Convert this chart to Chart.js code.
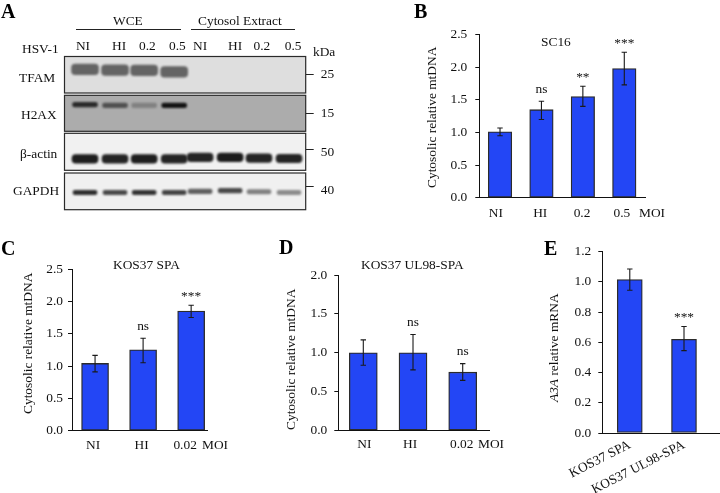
<!DOCTYPE html>
<html>
<head>
<meta charset="utf-8">
<title>HSV-1 cytosolic mtDNA</title>
<script src="https://cdn.jsdelivr.net/npm/chart.js@4"></script>
<style>
  html, body { margin: 0; padding: 0; background: #fff; }
  #page { position: relative; width: 720px; height: 493px; overflow: hidden;
          font-family: "Liberation Serif", serif; font-size: 13.4px; color: #111; }
  canvas { position: absolute; left: 0; top: 0; }
  .note { position: absolute; white-space: nowrap; line-height: 1; }
  .letter { font-size: 20px; font-weight: bold; color: #000; }
  .rule { position: absolute; height: 1px; background: #222; }
</style>
</head>
<body>
<div id="page"></div>
<script>
// bar panels
const bLabels = ['NI', 'HI', '0.2', '0.5'];
const bValues = [1.01, 1.35, 1.55, 1.98];
const bErrLow = [0.95, 1.20, 1.40, 1.73];
const bErrHigh = [1.07, 1.48, 1.71, 2.23];
const bSig = ['', 'ns', '**', '***'];
const bLabelAt = [0.90, 1.97, 2.98, 3.94];

const cLabels = ['NI', 'HI', '0.02'];
const cValues = [1.04, 1.25, 1.85];
const cErrLow = [0.91, 1.05, 1.75];
const cErrHigh = [1.165, 1.43, 1.94];
const cSig = ['', 'ns', '***'];
const cLabelAt = [0.96, 1.97, 2.875];

const dLabels = ['NI', 'HI', '0.02'];
const dValues = [1.0, 1.0, 0.75];
const dErrLow = [0.84, 0.78, 0.645];
const dErrHigh = [1.165, 1.235, 0.86];
const dSig = ['', 'ns', 'ns'];
const dLabelAt = [1.02, 1.94, 2.98];

const eLabels = ['KOS37 SPA', 'KOS37 UL98-SPA'];
const eValues = [1.015, 0.62];
const eErrLow = [0.945, 0.545];
const eErrHigh = [1.085, 0.705];
const eSig = ['', '***'];
const eLabelAt = [1, 2];

// blot: lane positions, then band level (0-1 up the strip) and darkness per lane
const laneLabels = ['NI', 'HI', '0.2', '0.5', 'NI', 'HI', '0.2', '0.5'];
const laneLabelAt = [0.93, 2.17, 3.14, 4.17, 4.95, 6.15, 7.07, 8.14];
const lanes = [1, 2.03, 3.03, 4.06, 4.95, 5.98, 6.97, 8];
const tfamLevel = [0.65, 0.63, 0.62, 0.58, 0.6, 0.6, 0.6, 0.6];
const tfamDark = [0.6, 0.6, 0.6, 0.6, 0, 0, 0, 0];
const h2axLevel = [0.74, 0.72, 0.72, 0.72, 0.7, 0.7, 0.7, 0.7];
const h2axDark = [0.85, 0.6, 0.28, 1, 0, 0, 0, 0];
const actinLevel = [0.31, 0.31, 0.31, 0.31, 0.35, 0.35, 0.33, 0.32];
const actinDark = [0.95, 0.92, 0.95, 0.92, 0.92, 0.96, 0.92, 0.92];
const gapdhLevel = [0.47, 0.47, 0.47, 0.47, 0.5, 0.52, 0.49, 0.47];
const gapdhDark = [0.88, 0.75, 0.85, 0.78, 0.65, 0.75, 0.5, 0.45];

Chart.defaults.font.family = '"Liberation Serif", serif';
Chart.defaults.font.size = 13.4;
Chart.defaults.color = '#111';
Chart.defaults.animation = false;
Chart.defaults.plugins.legend.display = false;
Chart.defaults.plugins.tooltip.enabled = false;

const W = 720, H = 493;
const page = document.getElementById('page');

function newCanvas() {
  const c = document.createElement('canvas');
  c.width = W; c.height = H;
  c.style.width = W + 'px'; c.style.height = H + 'px';
  page.appendChild(c);
  return c.getContext('2d');
}

const errorBars = {
  id: 'errorBars',
  afterDatasetsDraw(chart, args, o) {
    const { ctx, scales: { x, y } } = chart;
    ctx.save();
    ctx.strokeStyle = '#1a1a1a';
    ctx.lineWidth = 1.1;
    o.high.forEach((hi, i) => {
      const px = x.getPixelForValue(i + 1);
      const top = y.getPixelForValue(hi), bot = y.getPixelForValue(o.low[i]);
      ctx.beginPath();
      ctx.moveTo(px, top); ctx.lineTo(px, bot);
      ctx.moveTo(px - 2.7, top); ctx.lineTo(px + 2.7, top);
      ctx.moveTo(px - 2.7, bot); ctx.lineTo(px + 2.7, bot);
      ctx.stroke();
      if (o.sig[i]) {
        ctx.fillStyle = '#111';
        ctx.font = '13.4px "Liberation Serif", serif';
        ctx.textAlign = 'center';
        ctx.textBaseline = 'middle';
        ctx.fillText(o.sig[i], px, top - (o.sig[i] === 'ns' ? 12 : 9));
      }
    });
    ctx.restore();
  }
};

function barPanel(p) {
  new Chart(newCanvas(), {
    type: 'bar',
    data: {
      datasets: [{
        data: p.values.map((v, i) => ({ x: i + 1, y: v })),
        backgroundColor: '#2346f5',
        borderColor: '#2b2b2b',
        borderWidth: 1.3,
        borderSkipped: false,
        barThickness: p.barWidth
      }]
    },
    options: {
      responsive: false,
      layout: { autoPadding: false, padding: { left: 0, top: p.top, right: W - p.right, bottom: 0 } },
      scales: {
        x: {
          type: 'linear', offset: false, min: p.xMin, max: p.xMax,
          grid: { display: false, drawTicks: false },
          border: { display: true, color: '#111', width: 1 },
          ticks: {
            autoSkip: false, padding: p.xPad, minRotation: p.rotate || 0, maxRotation: p.rotate || 0,
            callback: (v, i) => p.labels[i]
          },
          afterBuildTicks: s => { s.ticks = p.labelAt.map(v => ({ value: v })); },
          afterFit: s => { s.height = H - p.bottom; }
        },
        y: {
          min: 0, max: p.yMax,
          grid: { drawOnChartArea: false, drawTicks: true, tickLength: 4, color: '#111' },
          border: { display: true, color: '#111', width: 1 },
          ticks: { stepSize: p.yStep, padding: p.yPad, callback: v => v.toFixed(1) },
          afterFit: s => { s.width = p.left; }
        }
      },
      plugins: { errorBars: { low: p.errLow, high: p.errHigh, sig: p.sig } }
    },
    plugins: [errorBars]
  });
}

barPanel({ labels: bLabels, values: bValues, errLow: bErrLow, errHigh: bErrHigh, sig: bSig, labelAt: bLabelAt,
  left: 479.3, top: 34.7, right: 645, bottom: 197.7, xMin: 0.5, xMax: 4.5, yMax: 2.5, yStep: 0.5, barWidth: 23.5, yPad: 8, xPad: 8 });
barPanel({ labels: cLabels, values: cValues, errLow: cErrLow, errHigh: cErrHigh, sig: cSig, labelAt: cLabelAt,
  left: 72, top: 269, right: 207, bottom: 430.7, xMin: 0.52, xMax: 3.33, yMax: 2.5, yStep: 0.5, barWidth: 27, yPad: 5, xPad: 7 });
barPanel({ labels: dLabels, values: dValues, errLow: dErrLow, errHigh: dErrHigh, sig: dSig, labelAt: dLabelAt,
  left: 338.3, top: 275, right: 489.3, bottom: 430.5, xMin: 0.497, xMax: 3.535, yMax: 2, yStep: 0.5, barWidth: 28, yPad: 7, xPad: 6 });
barPanel({ labels: eLabels, values: eValues, errLow: eErrLow, errHigh: eErrHigh, sig: eSig, labelAt: eLabelAt,
  left: 602.3, top: 251.7, right: 720, bottom: 433, xMin: 0.493, xMax: 2.664, yMax: 1.2, yStep: 0.2, barWidth: 25, yPad: 7, xPad: 4, rotate: 27 });

// blot strips: same canvas setup, bars are the bands
const softBands = {
  id: 'softBands',
  beforeDraw(chart, args, o) {
    const { ctx, chartArea: a } = chart;
    ctx.save();
    ctx.fillStyle = o.fill;
    ctx.fillRect(a.left, a.top, a.width, a.height);
    ctx.restore();
  },
  beforeDatasetsDraw(chart) {
    chart.ctx.save();
    chart.ctx.filter = 'blur(1.1px)';
  },
  afterDatasetsDraw(chart) {
    chart.ctx.restore();
  },
  afterDraw(chart) {
    const { ctx, chartArea: a } = chart;
    ctx.save();
    ctx.strokeStyle = '#2a2a2a';
    ctx.lineWidth = 1.2;
    ctx.strokeRect(a.left, a.top, a.width, a.height);
    ctx.restore();
  }
};

function blotStrip(s) {
  new Chart(newCanvas(), {
    type: 'bar',
    data: {
      datasets: [{
        data: lanes.map((l, i) => ({ x: l, y: [s.level[i] - s.band / 2, s.level[i] + s.band / 2] })),
        backgroundColor: s.dark.map(d => 'rgba(18,18,18,' + d + ')'),
        barThickness: s.width,
        borderRadius: 4,
        borderSkipped: false
      }]
    },
    options: {
      responsive: false,
      layout: { autoPadding: false, padding: { left: 64.5, top: s.showLanes ? 0 : s.top, right: 0, bottom: H - s.bottom } },
      scales: {
        x: {
          type: 'linear', position: 'top', offset: false, min: 0.296, max: 8.573,
          display: !!s.showLanes,
          grid: { display: false, drawTicks: false },
          border: { display: false },
          ticks: { autoSkip: false, padding: 2, maxRotation: 0, minRotation: 0, callback: (v, i) => laneLabels[i] },
          afterBuildTicks: a => { a.ticks = laneLabelAt.map(v => ({ value: v })); },
          afterFit: a => { a.height = s.showLanes ? s.top : 0; }
        },
        y: {
          position: 'right', min: 0, max: 1,
          grid: { drawOnChartArea: false, drawTicks: true, tickLength: 8, color: '#222' },
          border: { display: false },
          ticks: { padding: 7, labelOffset: s.kdaOffset, callback: () => s.kda },
          afterBuildTicks: a => { a.ticks = [{ value: s.kdaAt }]; },
          afterFit: a => { a.width = W - 305.7; }
        }
      },
      plugins: { softBands: { fill: s.fill } }
    },
    plugins: [softBands]
  });
}

blotStrip({ level: tfamLevel, dark: tfamDark, band: 0.29, width: 27, top: 56.5, bottom: 93, fill: '#dedede', kda: '25', kdaAt: 0.5, kdaOffset: 0, showLanes: true });
blotStrip({ level: h2axLevel, dark: h2axDark, band: 0.13, width: 25, top: 95.3, bottom: 131.3, fill: '#acacac', kda: '15', kdaAt: 0.5, kdaOffset: 0 });
blotStrip({ level: actinLevel, dark: actinDark, band: 0.23, width: 26, top: 133.3, bottom: 170.3, fill: '#f1f1f1', kda: '50', kdaAt: 0.57, kdaOffset: 3 });
blotStrip({ level: gapdhLevel, dark: gapdhDark, band: 0.12, width: 24, top: 173, bottom: 209.7, fill: '#f0f0f0', kda: '40', kdaAt: 0.63, kdaOffset: 4 });

// free text around the panels
const notes = [
  ['A', 8, 11, 'letter'], ['B', 420, 11, 'letter'], ['C', 8, 248, 'letter'], ['D', 286, 247, 'letter'], ['E', 550, 248, 'letter'],
  ['WCE', 127.7, 20], ['Cytosol Extract', 239.5, 20], ['HSV-1', 40, 48.7], ['kDa', 323.7, 51],
  ['TFAM', 37.3, 77], ['H2AX', 38.7, 114], ['β-actin', 38, 153.7], ['GAPDH', 35.7, 190],
  ['SC16', 556.3, 41], ['KOS37 SPA', 146.7, 264.3], ['KOS37 UL98-SPA', 412.7, 264.3],
  ['MOI', 651.7, 212], ['MOI', 215, 444], ['MOI', 490.7, 443],
  ['Cytosolic relative mtDNA', 431.7, 117.7, 'vert'], ['Cytosolic relative mtDNA', 27.3, 343.7, 'vert'],
  ['Cytosolic relative mtDNA', 290.7, 359, 'vert'], ['<i>A3A</i> relative mRNA', 553.3, 347, 'vert']
];
notes.forEach(([text, x, y, cls]) => {
  const d = document.createElement('div');
  d.className = 'note' + (cls === 'letter' ? ' letter' : '');
  d.innerHTML = text;
  page.appendChild(d);
  const w = d.offsetWidth, h = d.offsetHeight;
  if (cls === 'vert') {
    d.style.transformOrigin = '0 0';
    d.style.transform = 'rotate(-90deg)';
    d.style.left = Math.round(x - h / 2) + 'px';
    d.style.top = Math.round(y + w / 2) + 'px';
  } else {
    d.style.left = Math.round(x - w / 2) + 'px';
    d.style.top = Math.round(y - h / 2) + 'px';
  }
});
[[76, 180.7], [190.7, 295]].forEach(([a, b]) => {
  const d = document.createElement('div');
  d.className = 'rule';
  d.style.left = a + 'px';
  d.style.width = (b - a) + 'px';
  d.style.top = '29px';
  page.appendChild(d);
});
</script>
</body>
</html>
